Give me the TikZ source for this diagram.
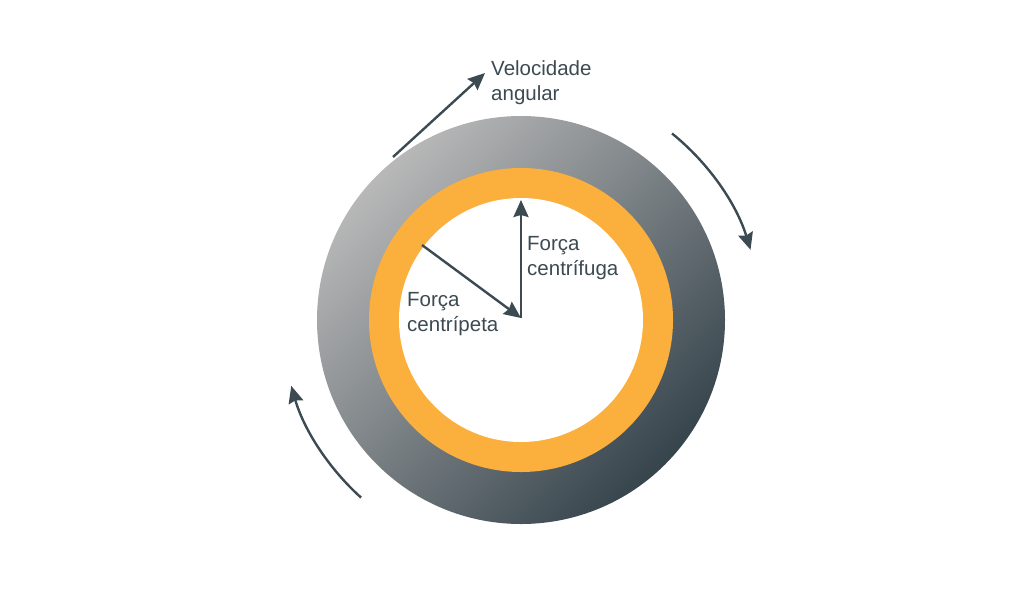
\documentclass[tikz,border=0pt]{standalone}
\usepackage{fontspec}
\setmainfont{Liberation Sans}
\usetikzlibrary{arrows.meta,calc}
\definecolor{slate}{HTML}{3C4A52}
\definecolor{ringlight}{HTML}{B8B8B8}
\definecolor{ringdark}{HTML}{36444C}
\definecolor{ringorange}{HTML}{FBAF3C}
\tikzset{
  vec/.style={draw=slate, line width=2.4pt, -{Stealth[length=17pt,width=15pt,inset=2pt]}},
  lbl/.style={text=slate, font=\fontsize{20.5}{25}\selectfont, align=left, inner sep=0pt, anchor=base west}
}
\begin{document}
\begin{tikzpicture}[x=1pt,y=-1pt]
\useasboundingbox (0,0) rectangle (1024,600);
\coordinate (c) at (521,320);
\shade[top color=ringlight, bottom color=ringdark, shading angle=45] (c) circle[radius=204];
\fill[ringorange] (c) circle[radius=152];
\fill[white] (c) circle[radius=122];
% force vectors
\coordinate (o) at (521,318);
\coordinate (cf) at (521,200);
\coordinate (cp) at (422,245);
\draw[vec] (o) -- (cf);
\draw[vec] (cp) -- (o);
% angular velocity
\coordinate (v1) at (393,157);
\coordinate (v2) at (485,73);
\draw[vec] (v1) -- (v2);
% rotation arcs
\coordinate (a1) at ($(c)+(-51:240)$);
\coordinate (a2) at ($(c)+(132:239)$);
\draw[vec] (a1) arc[start angle=-51, end angle=-17, radius=240];
\draw[vec] (a2) arc[start angle=132, end angle=164, radius=239];
% labels
\node[lbl] (tv) at (491,100) {Velocidade\\angular};
\node[lbl] (tcf) at (527,275) {Força\\centrífuga};
\node[lbl] (tcp) at (407,331) {Força\\centrípeta};
\end{tikzpicture}
\end{document}
